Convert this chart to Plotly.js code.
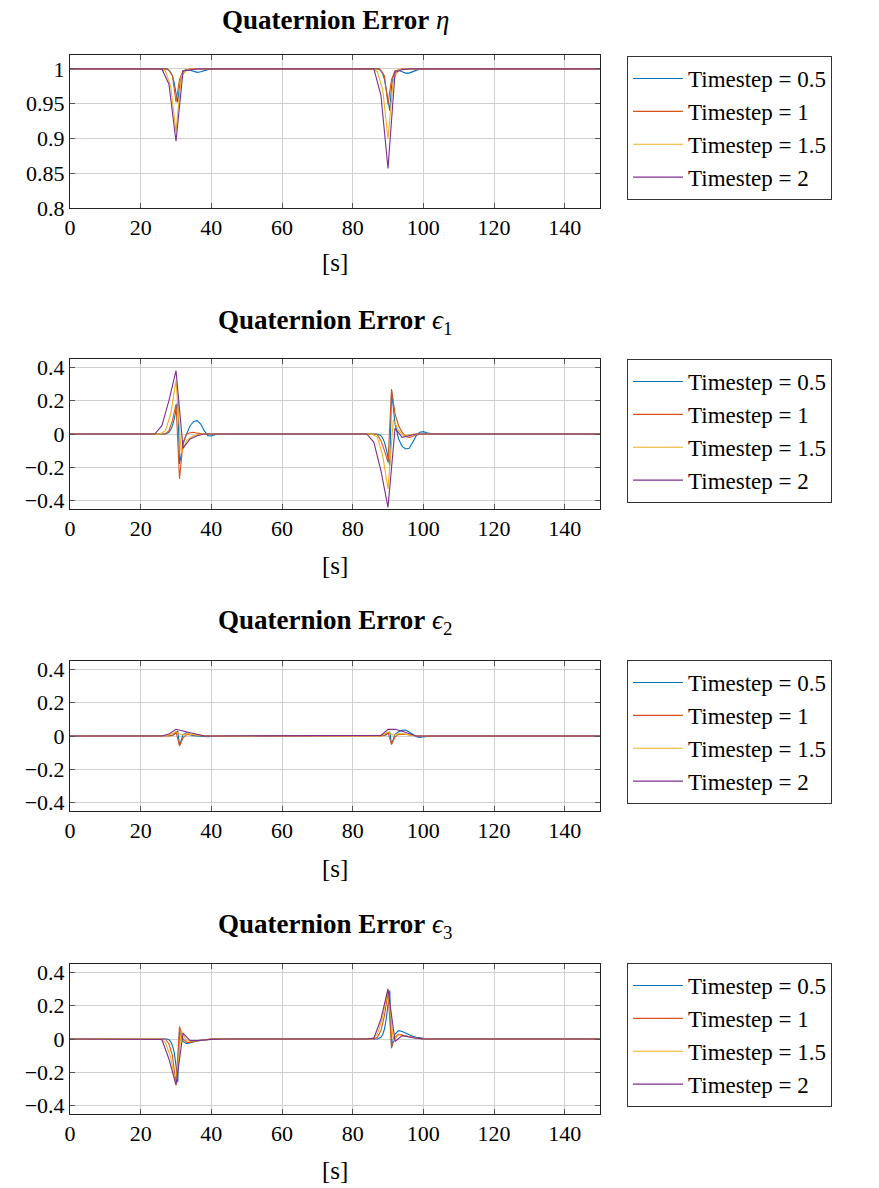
<!DOCTYPE html>
<html>
<head>
<meta charset="utf-8">
<script src="https://cdn.plot.ly/plotly-3.0.1.min.js"></script>
<style>html,body{margin:0;padding:0;background:#fff;}</style>
</head>
<body>
<div id="chart" style="width:879px;height:1188px;"></div>
<script>
// ---------- DATA ----------
const seriesNames = ["Timestep = 0.5", "Timestep = 1", "Timestep = 1.5", "Timestep = 2"];
const seriesColors = ["#0072BD", "#D95319", "#EDB120", "#7E2F8E"];
const panelTitles = ["<b>Quaternion Error</b> <i>η</i>", "<b>Quaternion Error</b> <i>ϵ</i><sub>1</sub>",
                     "<b>Quaternion Error</b> <i>ϵ</i><sub>2</sub>", "<b>Quaternion Error</b> <i>ϵ</i><sub>3</sub>"];
const xTitle = "[s]";

// sample times (key samples around the two manoeuvres)
const t05 = [0, 27, 27.5, 28, 28.5, 29, 29.5, 30, 30.5, 31, 31.5, 32, 33, 34, 35, 36, 37, 38, 39, 40, 41, 42, 44,
             87, 87.5, 88, 88.5, 89, 89.5, 90, 90.5, 91, 91.5, 92, 93, 94, 95, 96, 97, 98, 99, 100, 101, 102, 104, 150];
const t1 = [0, 26, 27, 28, 29, 30, 31, 32, 33, 34, 35, 36, 38, 40, 44,
            86, 87, 88, 89, 90, 91, 92, 93, 94, 95, 96, 97, 98, 100, 104, 150];
const t15 = [0, 25.5, 27, 28.5, 30, 31.5, 33, 34.5, 36, 37.5, 39, 42,
             85.5, 87, 88.5, 90, 91.5, 93, 94.5, 96, 97.5, 99, 102, 150];
const t2 = [0, 24, 26, 28, 30, 32, 34, 36, 38, 40, 44,
            84, 86, 88, 90, 92, 94, 96, 98, 100, 104, 150];

// eta
const eta05 = [1, 1, 1, 0.998, 0.995, 0.99, 0.98, 0.965, 0.952, 0.975, 0.99, 0.997, 0.999, 0.998, 0.996, 0.995, 0.996, 0.998, 0.999, 1, 1, 1, 1,
               1, 1, 0.997, 0.993, 0.985, 0.97, 0.95, 0.94, 0.975, 0.99, 0.997, 0.998, 0.996, 0.994, 0.994, 0.996, 0.999, 1, 1, 1, 1, 1, 1];
const eta1 = [1, 1, 1, 0.998, 0.99, 0.952, 0.985, 0.997, 0.999, 1, 1, 1, 1, 1, 1,
              1, 1, 0.998, 0.99, 0.949, 0.985, 0.997, 0.999, 1, 1, 1, 1, 1, 1, 1, 1];
const eta15 = [1, 1, 0.997, 0.975, 0.91, 0.99, 0.998, 1, 1, 1, 1, 1,
               1, 0.996, 0.97, 0.90, 0.985, 0.998, 1, 1, 1, 1, 1, 1];
const eta2 = [1, 1, 1, 0.978, 0.896, 0.997, 0.999, 1, 1, 1, 1,
              1, 1, 0.962, 0.857, 0.995, 0.999, 1, 1, 1, 1, 1];

// epsilon 1
const e1_05 = [0, 0, 0.005, 0.01, 0.025, 0.05, 0.09, 0.14, 0.2, -0.18, -0.12, -0.06, 0.0, 0.05, 0.075, 0.08, 0.06, 0.02, -0.01, -0.012, -0.005, 0, 0,
               0, -0.005, -0.01, -0.025, -0.05, -0.09, -0.14, -0.19, 0.26, 0.15, 0.06, -0.03, -0.075, -0.09, -0.085, -0.05, -0.01, 0.01, 0.014, 0.008, 0.003, 0, 0];
const e1_1 = [0, 0, 0, 0.02, 0.08, 0.18, -0.27, -0.05, 0, 0.008, 0.01, 0.005, 0, 0, 0,
              0, -0.005, -0.04, -0.1, -0.17, 0.27, 0.12, 0.05, 0.01, -0.015, -0.02, -0.015, -0.005, 0, 0, 0];
const e1_15 = [0, 0, 0.02, 0.12, 0.32, -0.115, -0.04, -0.015, -0.005, 0, 0, 0,
               0, -0.02, -0.13, -0.33, 0.085, 0.02, -0.01, -0.005, 0, 0, 0, 0];
const e1_2 = [0, 0, 0.05, 0.2, 0.38, -0.085, -0.03, -0.01, 0, 0, 0,
              0, -0.05, -0.22, -0.44, 0.035, -0.02, -0.01, 0, 0, 0, 0];

// epsilon 2
const e2_05 = [0, 0, 0, 0, 0.001, 0.003, 0.008, 0.018, 0.03, -0.055, -0.02, 0.008, 0.02, 0.008, 0.002, 0, -0.003, -0.005, -0.004, -0.002, 0, 0, 0,
               0, 0, 0, 0.001, 0.003, 0.008, 0.018, 0.025, -0.05, -0.02, 0.01, 0.025, 0.034, 0.036, 0.025, 0.01, -0.004, -0.008, -0.005, -0.002, 0, 0, 0];
const e2_1 = [0, 0, 0, 0, 0.005, 0.025, -0.06, -0.01, 0.008, 0.01, 0.008, 0.005, 0.001, 0, 0,
              0, 0, 0, 0.005, 0.02, -0.05, -0.005, 0.01, 0.012, 0.01, 0.006, 0.002, 0, 0, 0, 0];
const e2_15 = [0, 0, 0, 0.01, 0.025, 0.006, 0.014, 0.01, 0.005, 0.002, 0, 0,
               0, 0, 0.008, 0.025, 0.005, 0.015, 0.012, 0.006, 0.002, 0, 0, 0];
const e2_2 = [0, 0, 0, 0.012, 0.04, 0.03, 0.02, 0.008, 0, 0, 0,
              0, 0, 0.004, 0.04, 0.04, 0.028, 0.013, 0, 0, 0, 0];

// epsilon 3
const e3_05 = [0, 0, 0, -0.005, -0.015, -0.04, -0.08, -0.16, -0.26, 0.05, 0.01, -0.015, -0.028, -0.025, -0.018, -0.012, -0.008, -0.005, -0.003, -0.001, 0, 0, 0,
               0, 0.003, 0.01, 0.025, 0.06, 0.12, 0.2, 0.29, -0.055, 0, 0.03, 0.05, 0.045, 0.035, 0.025, 0.017, 0.01, 0.006, 0.003, 0.001, 0, 0, 0];
const e3_1 = [0, 0, 0, -0.03, -0.1, -0.27, 0.075, 0, -0.02, -0.02, -0.015, -0.01, -0.005, -0.001, 0,
              0, 0.01, 0.05, 0.14, 0.28, -0.05, 0.01, 0.03, 0.025, 0.02, 0.014, 0.009, 0.005, 0.001, 0, 0];
const e3_15 = [0, 0, -0.02, -0.11, -0.28, 0.05, -0.01, -0.015, -0.01, -0.006, -0.002, 0,
               0, 0.03, 0.13, 0.3, -0.01, 0.025, 0.02, 0.012, 0.006, 0.002, 0, 0];
const e3_2 = [0, 0, -0.003, -0.12, -0.275, 0.035, -0.01, -0.01, -0.006, -0.002, 0,
              0, 0.005, 0.12, 0.3, -0.015, 0.02, 0.012, 0.005, 0.001, 0, 0];

const xTickVals = [0, 20, 40, 60, 80, 100, 120, 140];
const etaTickVals = [0.8, 0.85, 0.9, 0.95, 1];
const epsTickVals = [-0.4, -0.2, 0, 0.2, 0.4];

// ---------- BUILD ----------
const times = [t05, t1, t15, t2];
const panels = [
  [eta05, eta1, eta15, eta2],
  [e1_05, e1_1, e1_15, e1_2],
  [e2_05, e2_1, e2_15, e2_2],
  [e3_05, e3_1, e3_15, e3_2]
];
const W = 879, H = 1188;
const plotTop = [55, 359, 661, 964], plotBot = [208, 509, 811, 1114];
const legTop = [56, 359, 660, 963];
const titleY = [20, 322, 622, 926];
const sY = [262, 565, 868, 1170];
const xL = 70, xR = 600;
const FONT = '"Liberation Serif", "Times New Roman", serif';

const traces = [];
panels.forEach((vals, p) => {
  vals.forEach((v, s) => {
    traces.push({
      type: 'scatter', mode: 'lines',
      x: times[s], y: v,
      name: seriesNames[s],
      line: {color: seriesColors[s], width: 1.1},
      xaxis: p === 0 ? 'x' : 'x' + (p + 1),
      yaxis: p === 0 ? 'y' : 'y' + (p + 1),
      legend: p === 0 ? 'legend' : 'legend' + (p + 1),
      hoverinfo: 'skip'
    });
  });
});

const layout = {
  width: W, height: H,
  margin: {l: 0, r: 0, t: 0, b: 0},
  paper_bgcolor: '#fff', plot_bgcolor: '#fff',
  font: {family: FONT, size: 22, color: '#000'},
  showlegend: true,
  annotations: []
};
for (let p = 0; p < 4; p++) {
  const xk = p === 0 ? 'xaxis' : 'xaxis' + (p + 1);
  const yk = p === 0 ? 'yaxis' : 'yaxis' + (p + 1);
  const yid = p === 0 ? 'y' : 'y' + (p + 1);
  const xid = p === 0 ? 'x' : 'x' + (p + 1);
  layout[xk] = {
    domain: [xL / W, xR / W], anchor: yid,
    range: [0, 150], tickvals: xTickVals,
    showgrid: true, gridcolor: '#d0d0d0', gridwidth: 1,
    zeroline: false, showline: true, linecolor: '#222', linewidth: 1, mirror: 'ticks',
    ticks: 'inside', ticklen: 5, tickcolor: '#555',
    tickfont: {family: FONT, size: 22, color: '#000'},
    automargin: false
  };
  layout[yk] = {
    domain: [1 - plotBot[p] / H, 1 - plotTop[p] / H], anchor: xid,
    range: p === 0 ? [0.8, 1.02] : [-0.45, 0.45],
    tickvals: p === 0 ? etaTickVals : epsTickVals,
    showgrid: true, gridcolor: '#d0d0d0', gridwidth: 1,
    zeroline: false, showline: true, linecolor: '#222', linewidth: 1, mirror: 'ticks',
    ticks: 'inside', ticklen: 5, tickcolor: '#555',
    tickfont: {family: FONT, size: 22, color: '#000'},
    automargin: false
  };
  const lk = p === 0 ? 'legend' : 'legend' + (p + 1);
  layout[lk] = {
    x: 627 / W, xanchor: 'left', y: 1 - legTop[p] / H, yanchor: 'top',
    bgcolor: '#fff', bordercolor: '#333', borderwidth: 1,
    font: {family: FONT, size: 23, color: '#000'},
    itemwidth: 50, entrywidth: 250
  };
  layout.annotations.push({
    xref: 'paper', yref: 'paper', x: 335 / W, y: 1 - titleY[p] / H,
    xanchor: 'center', yanchor: 'middle', showarrow: false,
    text: panelTitles[p], font: {family: FONT, size: 27, color: '#000'}
  });
  layout.annotations.push({
    xref: 'paper', yref: 'paper', x: 335 / W, y: 1 - sY[p] / H,
    xanchor: 'center', yanchor: 'middle', showarrow: false,
    text: xTitle, font: {family: FONT, size: 25, color: '#000'}
  });
}

Plotly.newPlot('chart', traces, layout, {staticPlot: true, displayModeBar: false});
</script>
</body>
</html>
